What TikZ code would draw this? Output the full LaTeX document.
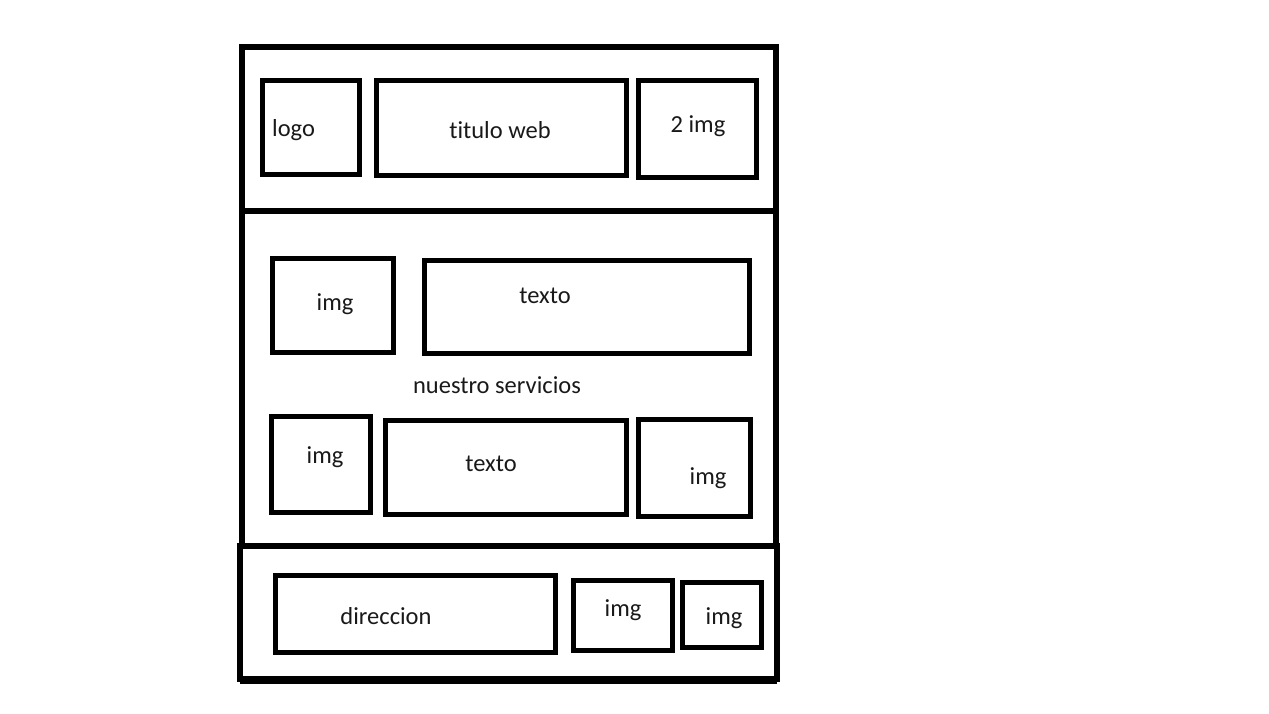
\documentclass[tikz,border=0pt]{standalone}
\usepackage{fontspec}
\setmainfont{Carlito}[Ligatures=NoCommon]
\begin{document}
\begin{tikzpicture}[x=1pt,y=-1pt,
  frame/.style={draw=black,line width=5.5pt,inner sep=0pt,outer sep=0pt,rectangle},
  inbox/.style={draw=black,line width=5pt,inner sep=0pt,outer sep=0pt,rectangle},
  lbl/.style={inner sep=0pt,font=\fontsize{24.5}{28}\selectfont,text=black!90}]
\useasboundingbox (0,0) rectangle (1269,714);
\fill[white] (0,0) rectangle (1269,714);
% sections
\node[frame,minimum width=534pt,minimum height=164pt] (head) at (509,129) {};
\node[frame,minimum width=534pt,minimum height=335pt] (mid) at (509,378.5) {};
\node[frame,minimum width=537pt,minimum height=133pt] (foot) at (508.5,612.5) {};
\draw[line width=5pt] ([yshift=-2pt]foot.south west) -- ([yshift=-2pt]foot.south east);
% header boxes
\node[inbox,minimum width=97pt,minimum height=94pt] (logo) at (310.5,128) {};
\node[inbox,minimum width=250pt,minimum height=95pt] (titulo) at (501,128.5) {};
\node[inbox,minimum width=118pt,minimum height=97pt] (dosimg) at (697,129.5) {};
% middle boxes
\node[inbox,minimum width=121pt,minimum height=94pt] (imga) at (332.5,305) {};
\node[inbox,minimum width=325pt,minimum height=93pt] (textoa) at (586.5,306.5) {};
\node[inbox,minimum width=99pt,minimum height=96pt] (imgb) at (320.5,464) {};
\node[inbox,minimum width=241pt,minimum height=94pt] (textob) at (505.5,467) {};
\node[inbox,minimum width=112pt,minimum height=97pt] (imgc) at (694,467.5) {};
% footer boxes
\node[inbox,minimum width=280pt,minimum height=77pt] (dir) at (415,613.5) {};
\node[inbox,minimum width=99pt,minimum height=70pt] (imgd) at (622.5,615) {};
\node[inbox,minimum width=79pt,minimum height=65pt] (imge) at (721.5,614.5) {};
% labels
\node[lbl,anchor=west] (tlogo) at (272,130) {logo};
\node[lbl] (ttitulo) at (500,130) {titulo web};
\node[lbl] (tdos) at (698,126) {2 img};
\node[lbl] (timga) at (335,304) {img};
\node[lbl] (ttextoa) at (545,296) {texto};
\node[lbl] (tserv) at (497,385) {nuestro servicios};
\node[lbl] (timgb) at (325,457) {img};
\node[lbl] (ttextob) at (491,464) {texto};
\node[lbl] (timgc) at (708,478) {img};
\node[lbl] (tdir) at (386,616) {direccion};
\node[lbl] (timgd) at (623,610) {img};
\node[lbl] (timge) at (724,618) {img};
\end{tikzpicture}
\end{document}
